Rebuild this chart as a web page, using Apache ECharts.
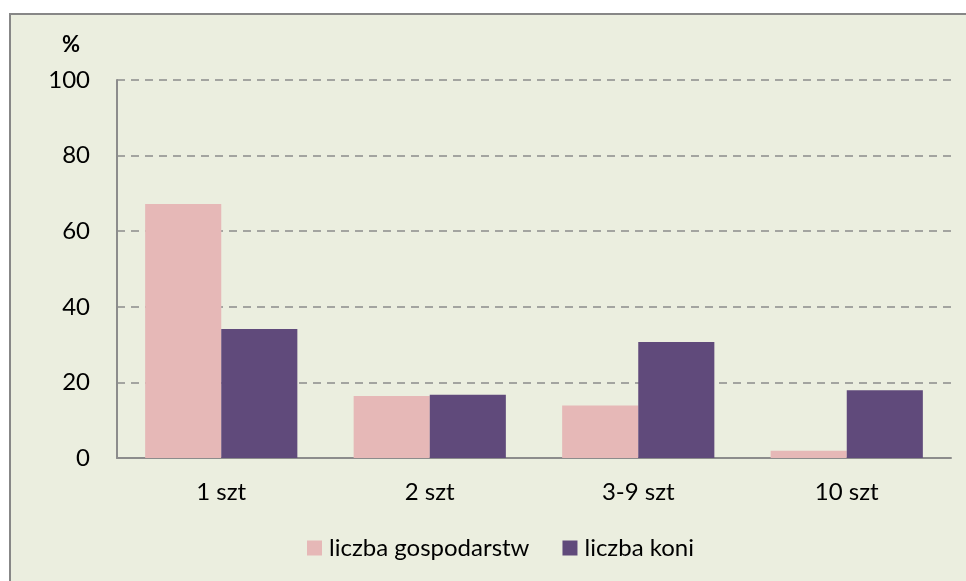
<!DOCTYPE html>
<html>
<head>
<meta charset="utf-8">
<script src="https://cdn.jsdelivr.net/npm/echarts@6/dist/echarts.min.js"></script>
<style>
  html, body { margin: 0; padding: 0; background: #ffffff; }
  #wykres { width: 966px; height: 581px; }
</style>
</head>
<body>
<div id="wykres"></div>
<script>
// dane (%)
const kategorie = ['1 szt', '2 szt', '3-9 szt', '10 szt'];
const gospodarstwa = [67.2, 16.4, 13.9, 1.9];
const konie = [34.1, 16.7, 30.7, 17.9];
const osY = { min: 0, max: 100, interval: 20 };

const czcionka = 'Lato, "Open Sans", "Noto Sans", sans-serif';

const myChart = echarts.init(document.getElementById('wykres'));

myChart.setOption({
  backgroundColor: '#ffffff',
  animation: false,
  graphic: [{
    type: 'rect',
    z: -10,
    shape: { x: 10, y: 14, width: 965, height: 580 },
    style: { fill: '#ebeedf', stroke: '#878787', lineWidth: 2 }
  }, {
    type: 'text',
    left: 62,
    top: 34,
    style: { text: '%', fill: '#000', font: 'bold 22px ' + czcionka }
  }],
  grid: { left: 117, right: 15, top: 80, bottom: 123 },
  legend: {
    bottom: 16,
    left: 302,
    itemWidth: 15,
    itemHeight: 15,
    itemGap: 33,
    icon: 'rect',
    textStyle: { fontFamily: czcionka, fontSize: 24, color: '#000', padding: [0, 0, 0, 2] },
    data: ['liczba gospodarstw', 'liczba koni']
  },
  xAxis: {
    type: 'category',
    data: kategorie,
    axisLine: { lineStyle: { color: '#8c8c8c', width: 2 } },
    axisTick: { show: false },
    axisLabel: { fontFamily: czcionka, fontSize: 24, color: '#000', margin: 22 }
  },
  yAxis: {
    type: 'value',
    min: osY.min,
    max: osY.max,
    interval: osY.interval,
    axisLine: { show: true, lineStyle: { color: '#8c8c8c', width: 2 } },
    axisTick: { show: false },
    axisLabel: { fontFamily: czcionka, fontSize: 24, color: '#000', margin: 27 },
    splitLine: { lineStyle: { color: '#8c8c8c', type: [8, 6], width: 1.5 } }
  },
  series: [{
    name: 'liczba gospodarstw',
    type: 'bar',
    data: gospodarstwa,
    barGap: '0%',
    barCategoryGap: '27%',
    itemStyle: { color: '#e6b8b7' }
  }, {
    name: 'liczba koni',
    type: 'bar',
    data: konie,
    itemStyle: { color: '#604a7b' }
  }]
});
</script>
</body>
</html>
